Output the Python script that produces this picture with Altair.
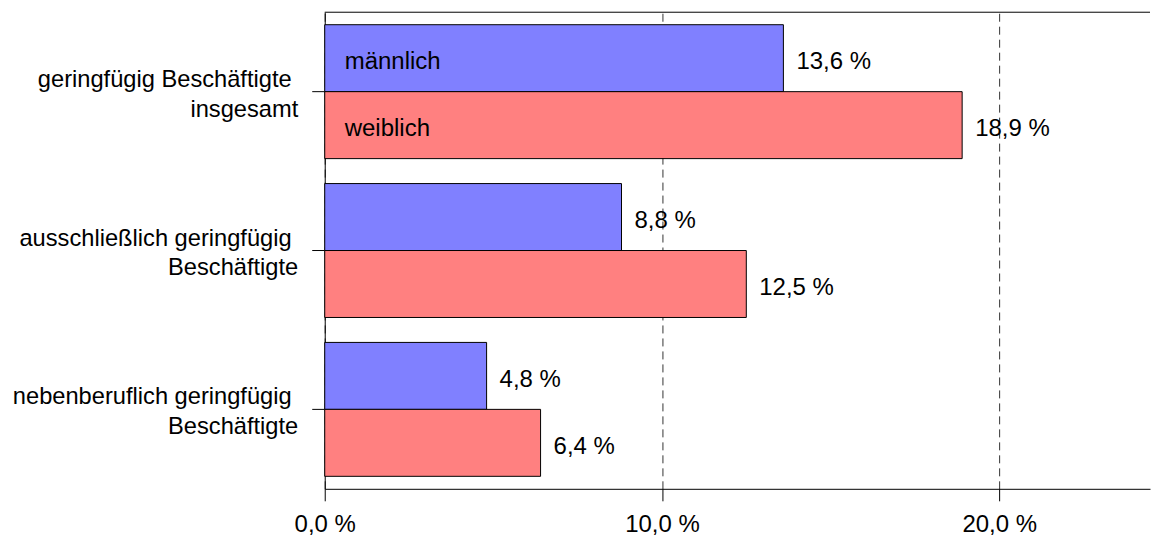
import altair as alt
import pandas as pd

categories = ["geringfügig Beschäftigte\u00a0\u200b|insgesamt",
              "ausschließlich geringfügig\u00a0\u200b|Beschäftigte",
              "nebenberuflich geringfügig\u00a0\u200b|Beschäftigte"]
sexes = ["männlich", "weiblich"]
male_values = [13.6, 8.8, 4.8]
female_values = [18.9, 12.5, 6.4]
x_ticks = [0, 10, 20]
x_max = 24.47

rows = []
for c, m, f in zip(categories, male_values, female_values):
    rows.append({"cat": c, "sex": "männlich", "value": m})
    rows.append({"cat": c, "sex": "weiblich", "value": f})
df = pd.DataFrame(rows)

inside = pd.DataFrame({"cat": [categories[0]] * 2, "sex": sexes, "value": [0, 0]})

FONT = "Liberation Sans"
W, H = 826, 477

y_enc = alt.Y("cat:N", sort=categories,
              scale=alt.Scale(paddingInner=0.157, paddingOuter=0.0786),
              axis=alt.Axis(title=None, domainColor="black", tickColor="black",
                            tickSize=13, labelPadding=14, labelFontSize=23.7,
                            labelFont=FONT, labelColor="black", labelAlign="right",
                            labelLineHeight=30, labelLimit=400, labelOffset=-12,
                            labelExpr="split(datum.label, '|')",
                            minExtent=317, maxExtent=317, grid=False))
yoff = alt.YOffset("sex:N", sort=sexes, scale=alt.Scale(paddingInner=0, paddingOuter=0))
x_scale = alt.Scale(domain=[0, x_max], nice=False, zero=True)

bars = alt.Chart(df).mark_bar(stroke="black", strokeWidth=1).encode(
    x=alt.X("value:Q", scale=x_scale,
            axis=alt.Axis(title=None, values=x_ticks, domainColor="black",
                          tickColor="black", tickSize=12, labelPadding=12,
                          labelFontSize=24, labelFont=FONT, labelColor="black",
                          labelFlush=False,
                          labelExpr="replace(format(datum.value, '.1f'), '.', ',') + ' %'",
                          grid=True, gridColor="#333333", gridDash=[8, 5],
                          gridWidth=1)),
    y=y_enc,
    yOffset=yoff,
    color=alt.Color("sex:N", sort=sexes,
                    scale=alt.Scale(domain=sexes, range=["#8080FF", "#FF8080"]),
                    legend=None),
)

labels = alt.Chart(df).transform_calculate(
    lab="replace(format(datum.value, '.1f'), '.', ',') + ' %'"
).mark_text(align="left", baseline="middle", dx=13, dy=4, fontSize=24,
            font=FONT, color="black").encode(
    x=alt.X("value:Q", scale=x_scale),
    y=alt.Y("cat:N", sort=categories),
    yOffset=yoff,
    text="lab:N",
)

inside_labels = alt.Chart(inside).mark_text(
    align="left", baseline="middle", dx=20, dy=4, fontSize=24,
    font=FONT, color="black").encode(
    x=alt.X("value:Q", scale=x_scale),
    y=alt.Y("cat:N", sort=categories),
    yOffset=yoff,
    text="sex:N",
)

top_line = alt.Chart(pd.DataFrame({"a": [0], "b": [x_max]})).mark_rule(
    color="black", strokeWidth=1).encode(
    x=alt.X("a:Q", scale=x_scale), x2="b:Q", y=alt.value(0))

chart = alt.layer(bars, labels, inside_labels, top_line).properties(
    width=W, height=H, background="white",
    padding={"left": 0, "top": 3, "right": 0, "bottom": 0},
).configure_view(stroke=None)

chart.save("out.html", embed_options={"renderer": "svg", "actions": False})
